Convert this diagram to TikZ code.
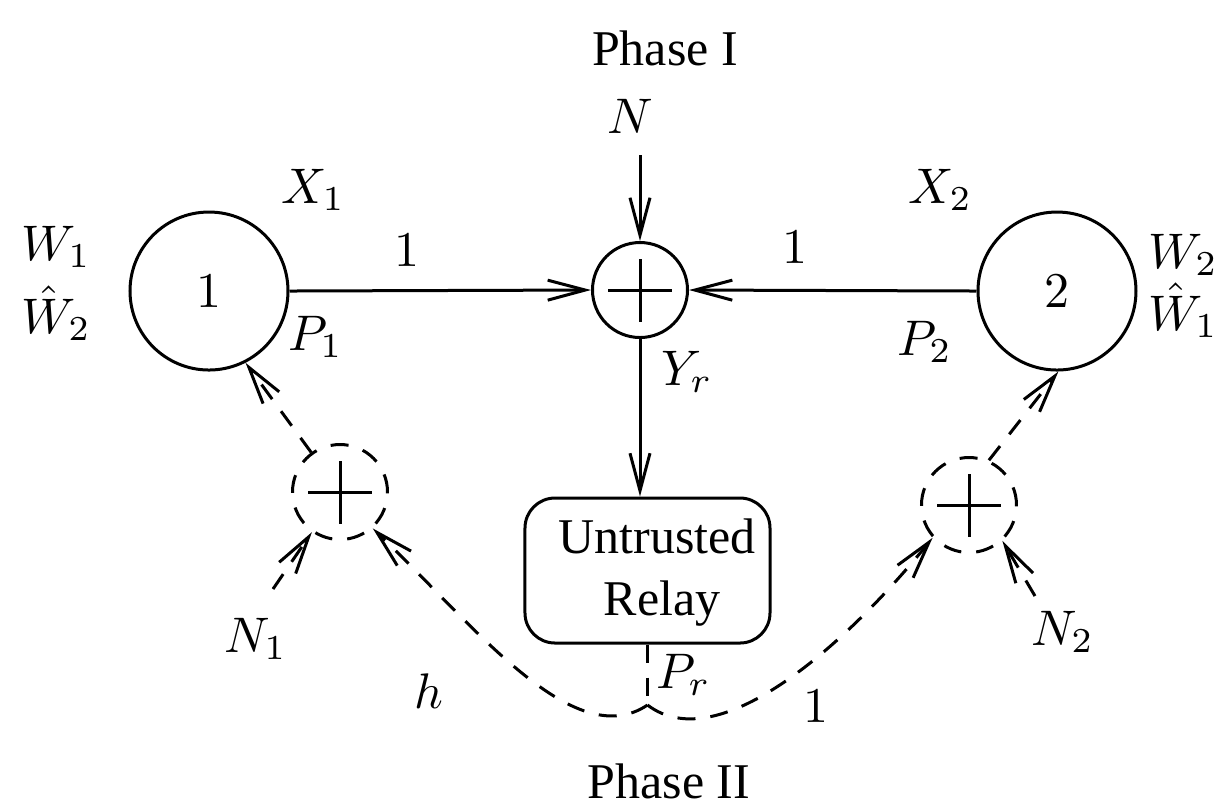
\documentclass[tikz,border=0pt]{standalone}
\usepackage[no-math]{fontspec}
\setmainfont{Liberation Serif}
\usetikzlibrary{arrows.meta}
\begin{document}
\begin{tikzpicture}[x=0.2pt,y=-0.2pt,line width=0.6pt,
  arr/.style={-{Straight Barb[length=7.5pt,width=4pt]}},
  dsh/.style={dash pattern=on 3.6pt off 3pt},
  bigc/.style={circle,draw,minimum size=31.6pt,inner sep=0pt},
  sumc/.style={circle,draw,minimum size=19pt,inner sep=0pt,
    path picture={\draw[solid]
      ([xshift=-6.3pt]path picture bounding box.center) -- ([xshift=6.3pt]path picture bounding box.center)
      ([yshift=-6.3pt]path picture bounding box.center) -- ([yshift=6.3pt]path picture bounding box.center);}},
  lbl/.style={inner sep=0pt,anchor=base west},
  txt/.style={inner sep=0pt}]
\useasboundingbox (0,0) rectangle (1217,806);

% main nodes
\node[bigc] (n1) at (209,291) {$1$};
\node[bigc] (n2) at (1057,291) {$2$};
\node[sumc] (s) at (640,290) {};
\node[sumc,dsh] (sl) at (340,492) {};
\node[sumc,dsh] (sr) at (969,505) {};
\node[draw,rounded corners=6pt,minimum width=49pt,minimum height=29pt,inner sep=0pt] (relay) at (647.5,570.5) {};
\node[txt,anchor=base] (rl1) at (657,553) {Untrusted};
\node[txt,anchor=base] (rl2) at (662,615) {Relay};

% titles
\node[txt] (ph1) at (665,48) {Phase I};
\node[txt] (ph2) at (669,781) {Phase II};

% labels
\node[txt] (N) at (630,116) {$N$};
\node[lbl] (X1) at (280,203) {$X_1$};
\node[lbl] (X2) at (907,203) {$X_2$};
\node[lbl] (W1) at (20,260) {$W_1$};
\node[lbl] (W2h) at (20,333) {$\hat{W}_2$};
\node[lbl] (W2) at (1147,268) {$W_2$};
\node[lbl] (W1h) at (1147,330) {$\hat{W}_1$};
\node[lbl] (P1) at (287,350) {$P_1$};
\node[lbl] (P2) at (896,355) {$P_2$};
\node[txt] (g1) at (407,250) {$1$};
\node[txt] (g2) at (795,247) {$1$};
\node[lbl] (Yr) at (660,385) {$Y_r$};
\node[lbl] (N1) at (223,652) {$N_1$};
\node[lbl] (N2) at (1030,645) {$N_2$};
\node[lbl] (h) at (413,708) {$h$};
\node[lbl] (Pr) at (655,688) {$P_r$};
\node[txt] (g3) at (816,706) {$1$};

% coordinates
\coordinate (Ntop) at (640,155);
\coordinate (n1src) at (273,589);
\coordinate (n2src) at (1035,596);
\coordinate (J) at (647.5,705);

% solid connectors
\draw[arr] (Ntop) -- (s.north);
\draw[arr] (n1.east) -- (s.west);
\draw[arr] (n2.west) -- (s.east);
\draw[arr] (s.south) -- (s.south |- relay.north);

% dashed connectors
\draw[arr,dsh] (sl.126) -- (n1.-63);
\draw[arr,dsh] (sr.66) -- (n2.-89);
\draw[arr,dsh] (n1src) -- (sl.-125);
\draw[arr,dsh] (n2src) -- (sr.-47);
\draw[dsh] (relay.south) -- (J);
\draw[arr,dsh] (J) .. controls (573,755) and (472,623) .. (sl.-48);
\draw[arr,dsh] (J) .. controls (720,760) and (850,640) .. (sr.-138);
\end{tikzpicture}
\end{document}
